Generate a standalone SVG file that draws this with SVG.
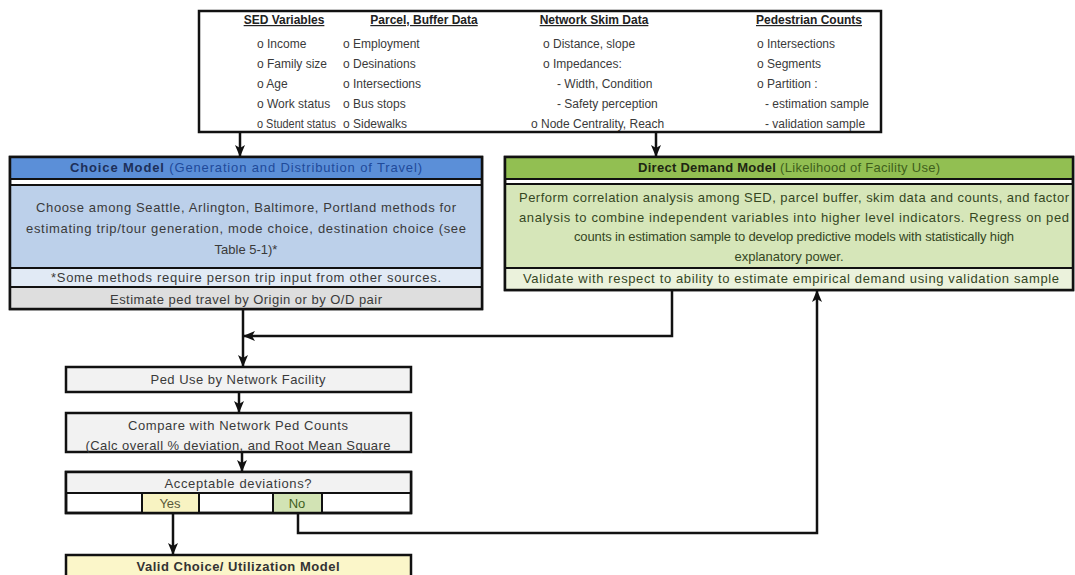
<svg xmlns="http://www.w3.org/2000/svg" width="1075" height="575" viewBox="0 0 1075 575">
<defs>
<style>
text{font-family:"Liberation Sans",Arial,sans-serif;font-size:12px;fill:#3a3a3a}
.h{font-weight:bold;text-decoration:underline;fill:#222}
.c{text-anchor:middle}
.m{font-size:13px}
.box{stroke:#111;stroke-width:2.5}
.sep{stroke:#111;stroke-width:2}
.ln{fill:none;stroke:#111;stroke-width:2.5}
.bt{font-weight:bold}
.g{fill:#35461f}
</style>
<marker id="arr" viewBox="0 0 12 12" refX="11" refY="6" markerWidth="12" markerHeight="12" orient="auto" markerUnits="userSpaceOnUse">
<path d="M0,1 L12,6 L0,11 L3,6 z" fill="#111"/>
</marker>
</defs>

<g id="inputs">
<rect x="199" y="11" width="682" height="121" fill="#fff" class="box"/>
<text class="h c" x="284" y="24">SED Variables</text>
<text x="257" y="48">o  Income</text>
<text x="257" y="68">o  Family size</text>
<text x="257" y="88">o  Age</text>
<text x="257" y="108">o  Work status</text>
<text x="257" y="128" textLength="79" lengthAdjust="spacingAndGlyphs">o  Student status</text>
<text class="h c" x="424" y="24">Parcel, Buffer Data</text>
<text x="343" y="48">o  Employment</text>
<text x="343" y="68">o  Desinations</text>
<text x="343" y="88">o   Intersections</text>
<text x="343" y="108">o   Bus stops</text>
<text x="343" y="128">o  Sidewalks</text>
<text class="h c" x="594" y="24">Network Skim Data</text>
<text x="543" y="48">o  Distance, slope</text>
<text x="543" y="68">o  Impedances:</text>
<text x="557" y="88">- Width, Condition</text>
<text x="557" y="108">- Safety perception</text>
<text x="531" y="128">o Node Centrality, Reach</text>
<text class="h c" x="809" y="24">Pedestrian Counts</text>
<text x="757" y="48">o  Intersections</text>
<text x="757" y="68">o  Segments</text>
<text x="757" y="88">o  Partition :</text>
<text x="765" y="108">- estimation sample</text>
<text x="765" y="128">- validation sample</text>
</g>

<g id="choice-model">
<rect x="10" y="157" width="472" height="152" fill="#fff" class="box"/>
<rect x="11" y="158" width="470" height="20" fill="#5b8fd8"/>
<rect x="11" y="185" width="470" height="83" fill="#bcd0ea"/>
<rect x="11" y="268" width="470" height="19" fill="#e1eaf5"/>
<rect x="11" y="287" width="470" height="21" fill="#dedede"/>
<line x1="10" y1="179" x2="482" y2="179" class="sep"/>
<line x1="10" y1="185" x2="482" y2="185" class="sep"/>
<line x1="10" y1="268" x2="482" y2="268" class="sep"/>
<line x1="10" y1="287" x2="482" y2="287" class="sep"/>
<rect x="10" y="157" width="472" height="152" fill="none" class="box"/>
<text class="c m" x="246" y="172" textLength="352" lengthAdjust="spacing"><tspan class="bt" style="fill:#1d2f5a">Choice Model</tspan><tspan style="fill:#1f4a9a"> (Generation and Distribution of Travel)</tspan></text>
<text class="c m" x="246" y="212" textLength="420" lengthAdjust="spacing">Choose among Seattle, Arlington, Baltimore, Portland methods for</text>
<text class="c m" x="246" y="233" textLength="440" lengthAdjust="spacing">estimating trip/tour generation, mode choice, destination choice (see</text>
<text class="c m" x="246" y="254">Table 5-1)*</text>
<text class="c m" x="246" y="282" textLength="390" lengthAdjust="spacing">*Some methods require person trip input from other sources.</text>
<text class="c m" x="246" y="304" textLength="272" lengthAdjust="spacing">Estimate ped travel by Origin or by O/D pair</text>
</g>

<g id="direct-demand-model">
<rect x="505" y="157" width="568" height="133" fill="#fff" class="box"/>
<rect x="506" y="158" width="566" height="20" fill="#92bf52"/>
<rect x="506" y="184" width="566" height="84" fill="#d6e6b9"/>
<rect x="506" y="268" width="566" height="21" fill="#ebf2dc"/>
<line x1="505" y1="179" x2="1073" y2="179" class="sep"/>
<line x1="505" y1="184" x2="1073" y2="184" class="sep"/>
<line x1="505" y1="268" x2="1073" y2="268" class="sep"/>
<rect x="505" y="157" width="568" height="133" fill="none" class="box"/>
<text class="c m" x="789" y="172" textLength="302" lengthAdjust="spacing"><tspan class="bt" style="fill:#1e2612">Direct Demand Model</tspan><tspan style="fill:#3f5f1c"> (Likelihood of Facility Use)</tspan></text>
<text class="c m g" x="794" y="202" textLength="550" lengthAdjust="spacing">Perform correlation analysis among SED, parcel buffer, skim data and counts, and factor</text>
<text class="c m g" x="794" y="222" textLength="550" lengthAdjust="spacing">analysis to combine independent variables into higher level indicators.  Regress on ped</text>
<text class="c m g" x="794" y="241" textLength="440" lengthAdjust="spacing">counts in estimation sample to develop predictive models with statistically high</text>
<text class="c m g" x="789" y="261">explanatory power.</text>
<text class="c m g" x="791" y="283" textLength="536" lengthAdjust="spacing">Validate with respect to ability to estimate empirical demand using validation sample</text>
</g>

<g id="ped-use">
<rect x="66" y="367" width="345" height="25" fill="#f2f2f2" class="box"/>
<text class="c m" x="238" y="384" textLength="175" lengthAdjust="spacing">Ped Use by Network Facility</text>
</g>

<g id="compare">
<rect x="66" y="413" width="345" height="39" fill="#f2f2f2" class="box"/>
<text class="c m" x="238" y="430" textLength="220" lengthAdjust="spacing">Compare with Network Ped Counts</text>
<text class="c m" x="238" y="450" textLength="305" lengthAdjust="spacing">(Calc overall % deviation, and Root Mean Square</text>
</g>

<g id="acceptable">
<rect x="66" y="472" width="345" height="41" fill="#fff" class="box"/>
<rect x="67" y="473" width="343" height="19" fill="#f2f2f2"/>
<line x1="66" y1="493" x2="411" y2="493" class="sep"/>
<rect x="142" y="493" width="57" height="20" fill="#f8f3c2" class="sep"/>
<rect x="273" y="493" width="49" height="20" fill="#d2e3b4" class="sep"/>
<rect x="66" y="472" width="345" height="41" fill="none" class="box"/>
<text class="c m" x="238" y="488" textLength="147" lengthAdjust="spacing">Acceptable deviations?</text>
<text class="c m" x="170" y="508" style="fill:#5a5a3a">Yes</text>
<text class="c m" x="297" y="508" style="fill:#3f5f1c">No</text>
</g>

<g id="valid-model">
<rect x="66" y="555" width="345" height="22" fill="#fbf6c9" class="box"/>
<text class="c m bt" x="238" y="571" textLength="203" lengthAdjust="spacing" style="fill:#333">Valid Choice/ Utilization Model</text>
</g>

<g id="connectors">
<line x1="240" y1="132" x2="240" y2="156" class="ln" marker-end="url(#arr)"/>
<line x1="656" y1="132" x2="656" y2="156" class="ln" marker-end="url(#arr)"/>
<line x1="243" y1="309" x2="243" y2="366" class="ln" marker-end="url(#arr)"/>
<polyline points="672,290 672,336 244,336" class="ln" marker-end="url(#arr)"/>
<line x1="239" y1="392" x2="239" y2="412" class="ln" marker-end="url(#arr)"/>
<line x1="242" y1="452" x2="242" y2="471" class="ln" marker-end="url(#arr)"/>
<line x1="173" y1="513" x2="173" y2="554" class="ln" marker-end="url(#arr)"/>
<polyline points="298,513 298,533 817,533 817,291" class="ln" marker-end="url(#arr)"/>
</g>
</svg>
